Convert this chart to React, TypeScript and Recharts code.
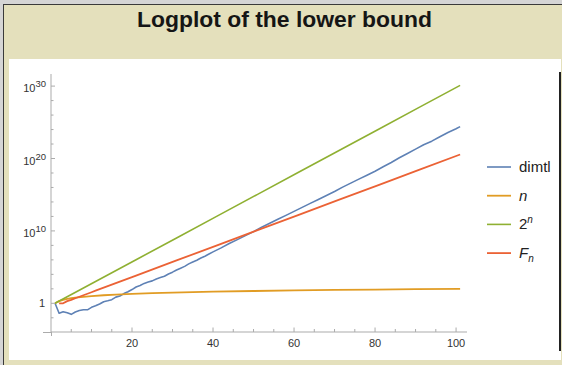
import { LineChart, Line, XAxis, YAxis } from "recharts";

// Values, [n, value]
const dimtl: [number, number][] = [
  [1, 1], [2, 4.2e-2], [3, 6.9e-2], [4, 5.0e-2], [5, 3.0e-2], [6, 6.3e-2],
  [7, 1.0e-1], [8, 1.3e-1], [9, 1.26e-1], [10, 2.8e-1], [11, 4.5e-1], [12, 7.9e-1],
  [13, 1.66], [14, 2.24], [15, 3.16], [16, 7.1], [17, 10], [18, 22], [19, 40],
  [20, 79], [21, 178], [22, 282], [23, 562], [24, 891], [25, 1.26e3], [26, 2.24e3],
  [27, 3.55e3], [28, 5.6e3], [29, 1.12e4], [30, 2.0e4], [31, 4.0e4], [32, 7.1e4],
  [33, 1.26e5], [34, 2.8e5], [35, 5.0e5], [36, 8.9e5], [37, 1.78e6], [38, 3.2e6],
  [39, 6.3e6], [40, 1.26e7], [42, 4.5e7], [44, 1.78e8], [46, 6.3e8], [48, 2.24e9],
  [50, 7.9e9], [52, 3.2e10], [54, 1.12e11], [56, 4.0e11], [58, 1.41e12], [60, 5.0e12],
  [62, 1.78e13], [64, 6.3e13], [66, 2.24e14], [68, 7.9e14], [70, 2.8e15], [72, 1.12e16],
  [74, 4.0e16], [76, 1.41e17], [78, 5.0e17], [80, 1.78e18], [82, 7.1e18], [84, 2.8e19],
  [86, 1.26e20], [88, 5.0e20], [90, 2.0e21], [92, 7.9e21], [94, 2.5e22], [96, 1.0e23],
  [98, 4.0e23], [100, 1.26e24], [101, 2.5e24],
];

const linear: [number, number][] = [
  [1, 1], [2, 2], [3, 3], [4, 4], [5, 5], [6, 6], [8, 8], [10, 10], [13, 13],
  [16, 16], [20, 20], [25, 25], [30, 30], [40, 40], [50, 50], [60, 60], [70, 70],
  [80, 80], [90, 90], [101, 101],
];

const powerOfTwo: [number, number][] = [
  [1, 1], [11, 1024], [21, 1.048576e6], [31, 1.073741824e9], [41, 1.0995e12],
  [51, 1.1259e15], [61, 1.1529e18], [71, 1.1806e21], [81, 1.2089e24],
  [91, 1.2379e27], [101, 1.2677e30],
];

const fib: [number, number][] = [
  [2, 1], [3, 1], [4, 2], [5, 3], [6, 5], [7, 8], [8, 13], [9, 21], [10, 34],
  [11, 55], [16, 610], [21, 6765], [31, 832040], [41, 1.02334155e8],
  [51, 1.2586e10], [61, 1.548e12], [71, 1.9042e14], [81, 2.3417e16],
  [91, 2.88e18], [101, 3.5422e20],
];

const xTicks = [5, 10, 15, 20, 25, 30, 35, 40, 45, 50, 55, 60, 65, 70, 75, 80, 85, 90, 95, 100];
const xLabels = [20, 40, 60, 80, 100];
const yTicks = [1e-2, 1, 1e2, 1e4, 1e6, 1e8, 1e10, 1e12, 1e14, 1e16, 1e18, 1e20, 1e22, 1e24, 1e26, 1e28, 1e30];
const yLabelExps = [0, 10, 20, 30];

const AXIS = "#ababab";
const LABEL = "#333";
const FONT = "'Liberation Sans', Arial, sans-serif";
const Y_MARGIN = 5;
const X_MARGIN = 0;

const series = [
  { key: "dimtl", color: "#5E81B5", width: 1.6, points: dimtl },
  { key: "n", color: "#E19C24", width: 1.8, points: linear },
  { key: "pow2", color: "#8FB032", width: 1.6, points: powerOfTwo },
  { key: "fib", color: "#EB6235", width: 1.8, points: fib },
];

const toRows = (pts: [number, number][]) => pts.map(([n, v]) => ({ n, v }));

const YTick = (props: any) => {
  const { x, y, payload } = props;
  const exp = Math.round(Math.log10(payload.value));
  const ax = x + Y_MARGIN;
  const major = yLabelExps.includes(exp);
  return (
    <g>
      <line x1={ax} x2={ax + (major ? 4 : 2.5)} y1={y} y2={y} stroke={AXIS} />
      {major && exp === 0 && (
        <text x={x - 1} y={y + 4} textAnchor="end" fontSize={11} fill={LABEL} fontFamily={FONT}>1</text>
      )}
      {major && exp !== 0 && (
        <text x={x} y={y + 6} textAnchor="end" fontSize={11} fill={LABEL} fontFamily={FONT}>
          10<tspan dy={-5} fontSize={9.5}>{exp}</tspan>
        </text>
      )}
    </g>
  );
};

const XTick = (props: any) => {
  const { x, y, payload } = props;
  const major = xLabels.includes(payload.value);
  const ay = y - X_MARGIN;
  return (
    <g>
      <line x1={x} x2={x} y1={ay} y2={ay - (major ? 4.5 : 3)} stroke={AXIS} />
      {major && (
        <text x={x} y={ay + 14.5} textAnchor="middle" fontSize={11} fill={LABEL} fontFamily={FONT}>
          {payload.value}
        </text>
      )}
    </g>
  );
};

const legendLabels = [
  <tspan>dimtl</tspan>,
  <tspan fontStyle="italic">n</tspan>,
  <>
    <tspan>2</tspan>
    <tspan dy={-6} fontSize={10} fontStyle="italic">n</tspan>
  </>,
  <>
    <tspan fontStyle="italic">F</tspan>
    <tspan dy={4} fontSize={10} fontStyle="italic">n</tspan>
  </>,
];

export default function App() {
  return (
    <div style={{ position: "absolute", left: 0, top: 0, width: 562, height: 365, background: "#d5d5d5", overflow: "hidden" }}>
      {/* frame and beige slide background */}
      <div style={{ position: "absolute", left: 3, top: 4, right: 0, bottom: 0, background: "#3a3a3a" }} />
      <div style={{ position: "absolute", left: 4, top: 5, right: 0, bottom: 0, background: "#e4e0bc" }} />
      <div style={{ position: "absolute", left: 9, top: 59, width: 552, height: 301, background: "#fff" }} />
      <div style={{ position: "absolute", left: 559, top: 72, width: 2, height: 279, background: "#222" }} />

      <svg width={562} height={40} style={{ position: "absolute", left: 0, top: 0 }}>
        <text x={284.5} y={26.7} textAnchor="middle" fontSize={22} fontWeight="bold" fill="#151515"
          fontFamily={FONT} textLength={295} lengthAdjust="spacingAndGlyphs">
          Logplot of the lower bound
        </text>
      </svg>

      {/* axis stubs beyond the origin */}
      <div style={{ position: "absolute", left: 43, top: 331.5, width: 8, height: 1, background: AXIS }} />
      <div style={{ position: "absolute", left: 50.5, top: 332, width: 1, height: 4, background: AXIS }} />

      <div style={{ position: "absolute", left: 0, top: 0 }}>
        <LineChart width={562} height={365} margin={{ top: 74, right: 95, bottom: 13, left: 0 }}>
          <XAxis
            type="number"
            dataKey="n"
            domain={[0, 102.7]}
            allowDataOverflow
            ticks={xTicks}
            interval={0}
            tickSize={0}
            tickMargin={X_MARGIN}
            tickLine={false}
            tick={XTick}
            height={20}
            stroke={AXIS}
          />
          <YAxis
            type="number"
            scale="log"
            domain={[1.09e-4, 4.7e31]}
            allowDataOverflow
            ticks={yTicks}
            interval={0}
            tickSize={0}
            tickMargin={Y_MARGIN}
            tickLine={false}
            tick={YTick}
            width={51}
            stroke={AXIS}
          />
          {series.map((s) => (
            <Line
              key={s.key}
              data={toRows(s.points)}
              dataKey="v"
              type="linear"
              stroke={s.color}
              strokeWidth={s.width}
              dot={false}
              activeDot={false}
              isAnimationActive={false}
              strokeLinejoin="round"
            />
          ))}
        </LineChart>
      </div>

      <svg width={80} height={120} style={{ position: "absolute", left: 480, top: 150 }}>
        {series.map((s, i) => {
          const cy = 17 + i * 28.7;
          return (
            <g key={s.key}>
              <line x1={7} x2={31} y1={cy} y2={cy} stroke={s.color} strokeWidth={s.width} />
              <text x={39} y={cy + 5} fontSize={15} fill="#222" fontFamily={FONT}>
                {legendLabels[i]}
              </text>
            </g>
          );
        })}
      </svg>
    </div>
  );
}
